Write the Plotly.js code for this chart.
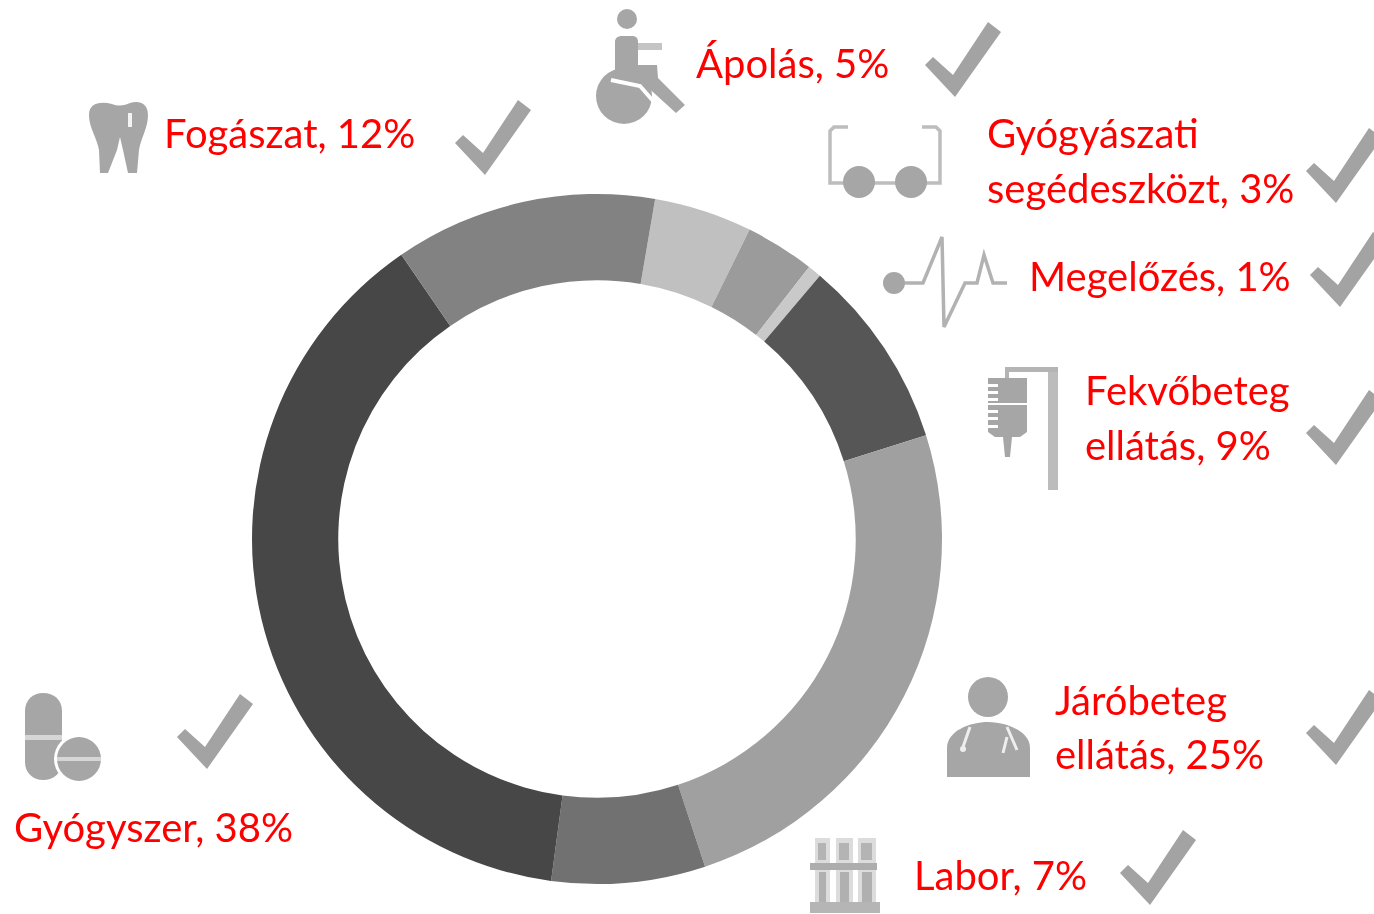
<!DOCTYPE html>
<html>
<head>
<meta charset="utf-8">
<script src="https://cdn.plot.ly/plotly-3.0.1.min.js"></script>
<style>
html,body{margin:0;padding:0;background:#fff;overflow:hidden}
#chart{width:1374px;height:914px;filter:blur(0.7px)}
</style>
</head>
<body>
<div id="chart"></div>
<script>
// Data
const categories = ['Ápolás','Gyógyászati segédeszközt','Megelőzés','Fekvőbeteg ellátás','Járóbeteg ellátás','Labor','Gyógyszer','Fogászat'];
const shares = [4.6,3.25,0.64,8.97,24.8,7.2,38.3,12.3];
const sliceColors = ['#c0c0c0','#9b9b9b','#c9c9c9','#565656','#a0a0a0','#717171','#474747','#828282'];
const labelLines = [
  ['Ápolás, 5%',694,63],
  ['Fogászat, 12%',162,133],
  ['Gyógyászati',985,133],
  ['segédeszközt, 3%',985,188],
  ['Megelőzés, 1%',1027,276],
  ['Fekvőbeteg',1083,390],
  ['ellátás, 9%',1083,445],
  ['Járóbeteg',1053,700],
  ['ellátás, 25%',1053,754],
  ['Labor, 7%',912,875],
  ['Gyógyszer, 38%',12,827]
];
const checkAnchors = [[925,22],[455,100],[1306,128],[1310,232],[1306,390],[1306,690],[1120,830],[177,694]];

const W = 1374, H = 914;
const px = x => x / W, py = y => 1 - y / H;
const ICON = '#a6a6a6', THIN = '#b8b8b8', PALE = '#dcdcdc';
const shapes = [];
function path(d, fill, lineColor, lineWidth) {
  // d is written in picture pixels and converted to paper fractions
  const conv = d.replace(/(-?[\d.]+),(-?[\d.]+)/g, (m, a, b) => px(+a).toFixed(5) + ',' + py(+b).toFixed(5));
  shapes.push({type:'path', xref:'paper', yref:'paper', path:conv,
    fillcolor: fill || 'rgba(0,0,0,0)',
    line:{color: lineColor || 'rgba(0,0,0,0)', width: lineWidth || 0}});
}
function circle(cx, cy, r, fill) {
  shapes.push({type:'circle', xref:'paper', yref:'paper',
    x0:px(cx-r), x1:px(cx+r), y0:py(cy+r), y1:py(cy-r), fillcolor:fill, line:{width:0}});
}
function rect(x0, y0, x1, y1, fill) {
  path(`M${x0},${y0} L${x1},${y0} L${x1},${y1} L${x0},${y1} Z`, fill);
}
// check marks
checkAnchors.forEach(([x,y]) => {
  const pts = [[0,43],[8,35],[28,53],[63,0],[76,10],[30,75]];
  path('M' + pts.map(p => (x+p[0]) + ',' + (y+p[1])).join(' L') + ' Z', '#a3a3a3');
});
// wheelchair
circle(627,19,10,ICON);
circle(624,96,28,ICON);
path('M611,80 L640,86 L654,102', null, '#ffffff', 4);
path('M615,42 C615,38 618,36 622,36 L632,36 C636,36 638,38 638,42 L638,65 L657,65 L658,78 L685,105 L676,113 L643,83 L618,79 L615,74 Z', ICON);
rect(638,43,662,50,'#c4c4c4');
// glasses
path('M848,127 L834,127 L830,131 L830,183 L940,183 L940,131 L936,127 L922,127', null, '#bdbdbd', 3.5);
circle(859,182,16,ICON);
circle(911,182,16,ICON);
// ECG
circle(894,283,11,ICON);
path('M905,283 L923,283 L942,237 L944,327 L965,283 L977,283 L984,255 L993,283 L1007,283', null, '#b2b2b2', 3.5);
// IV stand
rect(1048,367,1058,490,'#bcbcbc');
rect(1005,367,1058,372,'#b4b4b4');
rect(1005,367,1009,382,'#b4b4b4');
path('M988,378 L1027,378 L1027,432 L1020,437 L1012,437 L1010,457 L1005,457 L1003,437 L995,437 L988,432 Z', ICON);
rect(985,403,1029,405,'#ffffff');
[384,391,398,410,417,425].forEach(y => rect(985,y,998,y+3,'#ffffff'));
// doctor
circle(988,697,20,ICON);
path('M947,777 L947,748 C947,731 970,722 988,722 C1006,722 1030,731 1030,748 L1030,777 Z', ICON);
path('M970,727 L963,747', null, '#eeeeee', 3);
path('M1007,727 L1017,750 M1007,737 L1003,753', null, '#eeeeee', 3);
circle(963,749,3,'#eeeeee');
// lab tubes
[[815,830],[836,853],[858,876]].forEach(([a,b]) => {
  rect(a,838,b,912,PALE);
  rect(a+3,843,b-4,860,'#b4b4b4');
  rect(a+4,872,b-4,908,'#b0b0b0');
});
rect(810,863,877,870,'#adadad');
rect(810,902,880,913,'#b5b5b5');
// pills
path('M25,711 C25,700 33,693 43,693 C54,693 62,700 62,711 L62,762 C62,773 54,780 43,780 C33,780 25,773 25,762 Z', ICON);
rect(25,735,62,740,'#d6d6d6');
circle(79,759,25,'#ffffff');
circle(79,759,22,ICON);
rect(57,757,101,761,'#d6d6d6');
// tooth
path('M89,115 C89,103 100,101 112,104 C120,107 125,105 130,103 C140,100 148,104 148,115 C148,128 141,138 139,150 L137,173 L128,173 L123,150 L120,137 L117,150 L108,173 L100,173 L99,150 C97,138 89,128 89,115 Z', ICON);
rect(128,113,132,127,'#f4f4f4');

const annotations = labelLines.map(([t,x,y]) => ({
  text:t, xref:'paper', yref:'paper', x:px(x), y:py(y),
  xanchor:'left', yanchor:'middle', showarrow:false, align:'left',
  font:{family:'Lato, Carlito, sans-serif', size:40, color:'#ff0000'}
}));

Plotly.newPlot('chart', [{
  type:'pie',
  labels:categories,
  values:shares,
  sort:false,
  direction:'clockwise',
  rotation:9.7,
  hole:0.75,
  textinfo:'none',
  hoverinfo:'label+percent',
  marker:{colors:sliceColors, line:{width:0}},
  domain:{x:[252/W,942/W], y:[1-884/H,1-194/H]},
  showlegend:false
}], {
  width:W, height:H,
  margin:{l:0,r:0,t:0,b:0},
  paper_bgcolor:'#ffffff',
  plot_bgcolor:'#ffffff',
  showlegend:false,
  shapes:shapes,
  annotations:annotations
}, {displayModeBar:false, responsive:false});
</script>
</body>
</html>
